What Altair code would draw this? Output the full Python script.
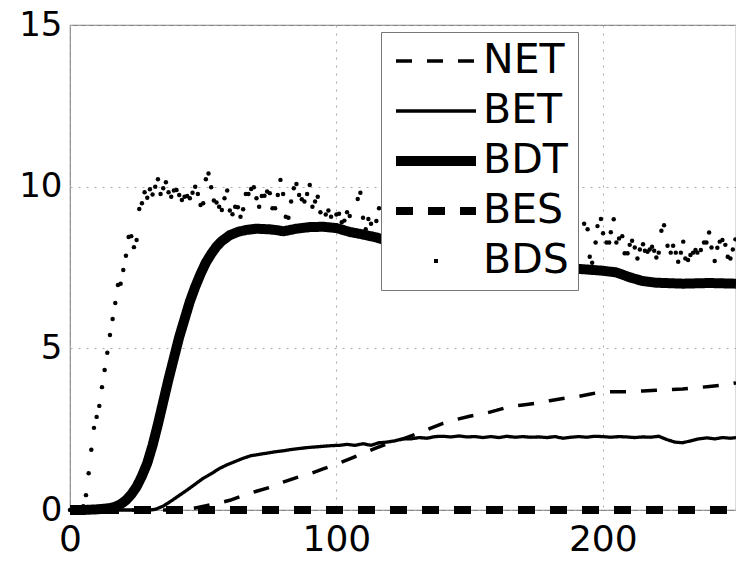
import altair as alt
import pandas as pd

SERIES = ["NET", "BET", "BDT", "BES", "BDS"]

net_x = [0, 42, 45, 48, 52, 56, 60, 65, 70, 75, 80, 85, 90, 95, 100, 105, 110, 115, 120, 125, 130,
         135, 140, 145, 150, 155, 160, 165, 170, 175, 180, 185, 190, 195, 200, 205, 210, 215, 220,
         225, 230, 235, 240, 245, 250]
net_y = [0.0, 0.0, 0.03, 0.08, 0.15, 0.22, 0.3, 0.45, 0.58, 0.7, 0.86, 1.0, 1.12, 1.27, 1.42, 1.58,
         1.75, 1.92, 2.08, 2.2, 2.35, 2.52, 2.68, 2.8, 2.9, 2.97, 3.08, 3.2, 3.25, 3.3, 3.38, 3.45,
         3.5, 3.58, 3.66, 3.66, 3.66, 3.68, 3.7, 3.72, 3.74, 3.78, 3.82, 3.86, 3.93]

bet_x = [0, 30, 32, 35, 38, 41, 44, 47, 50, 53, 56, 59, 62, 65, 68, 71, 74, 77, 80, 83, 86, 89, 92,
         95, 98, 101, 104, 107, 110, 113, 116, 119, 122, 125, 128, 131, 134, 137, 140, 143, 146,
         149, 152, 155, 158, 161, 164, 167, 170, 173, 176, 179, 182, 185, 188, 191, 194, 197, 200,
         203, 206, 209, 212, 215, 218, 221, 224, 227, 230, 233, 236, 239, 242, 245, 248, 250]
bet_y = [0.0, 0.0, 0.02, 0.12, 0.28, 0.45, 0.62, 0.8, 0.98, 1.12, 1.28, 1.4, 1.5, 1.6, 1.68, 1.72,
         1.76, 1.8, 1.83, 1.87, 1.9, 1.93, 1.95, 1.97, 1.99, 2.0, 2.03, 2.0, 2.05, 2.0, 2.08, 2.1,
         2.14, 2.2, 2.2, 2.24, 2.22, 2.27, 2.28, 2.26, 2.29, 2.26, 2.27, 2.24, 2.27, 2.24, 2.28,
         2.25, 2.27, 2.25, 2.26, 2.24, 2.27, 2.22, 2.25, 2.27, 2.25, 2.28, 2.27, 2.25, 2.27, 2.26,
         2.24, 2.26, 2.25, 2.28, 2.18, 2.1, 2.08, 2.14, 2.2, 2.23, 2.2, 2.24, 2.22, 2.24]

bdt_x = [0, 5, 10, 13, 15, 17, 19, 21, 23, 25, 27, 29, 31, 33, 35, 37, 39, 41, 43, 45, 47, 49, 51,
         53, 55, 57, 60, 63, 66, 70, 75, 78, 80, 82, 85, 90, 95, 100, 105, 110, 115, 120, 130, 140,
         150, 160, 170, 180, 192, 200, 205, 210, 215, 220, 230, 240, 250]
bdt_y = [0.0, 0.0, 0.02, 0.04, 0.06, 0.1, 0.18, 0.3, 0.48, 0.72, 1.05, 1.45, 2.0, 2.65, 3.35, 4.05,
         4.7, 5.35, 5.9, 6.45, 6.9, 7.3, 7.65, 7.92, 8.15, 8.32, 8.5, 8.6, 8.66, 8.7, 8.68, 8.65,
         8.62, 8.65, 8.7, 8.75, 8.76, 8.72, 8.6, 8.52, 8.43, 8.3, 8.1, 7.95, 7.85, 7.75, 7.65, 7.55,
         7.45, 7.4, 7.35, 7.2, 7.08, 7.03, 7.0, 7.02, 7.0]

bes_x = [0, 250]
bes_y = [0.0, 0.0]

# BDS samples (those behind the legend box cannot be read and are left out)
bds_x = [0, 1, 2, 3, 4, 5, 6, 7, 8, 9, 10, 11, 12, 13, 14, 15, 16, 17, 18, 19, 20, 21, 22, 23, 24,
         25, 26, 27, 28, 29, 30, 31, 32, 33, 34, 35, 36, 37, 38, 39, 40, 41, 42, 43, 44, 45, 46, 47,
         48, 49, 50, 51, 52, 53, 54, 55, 56, 57, 58, 59, 60, 61, 62, 63, 64, 65, 66, 67, 68, 69, 70,
         71, 72, 73, 74, 75, 76, 77, 78, 79, 80, 81, 82, 83, 84, 85, 86, 87, 88, 89, 90, 91, 92, 93,
         94, 95, 96, 97, 98, 99, 100, 101, 102, 103, 104, 105, 106, 107, 108, 109, 110, 111, 112,
         113, 114, 115, 116,
         193, 194.3, 195.1, 196, 197.3, 198, 199.3, 200.1, 201.4, 202.4, 203, 204.1, 205.1, 206.1,
         207.3, 208.2, 209.3, 210.1, 211, 212, 213, 213.9, 215.1, 215.8, 216.8, 217.6, 218.5,
         219.3, 220.1, 221, 222, 223, 224.3, 225.5, 226.4, 227.4, 228.3, 229.3, 230.2, 231, 232,
         232.9, 233.9, 234.8, 235.5, 236.8, 238, 238.9, 239.9, 240.8, 242, 243, 243.9, 244.9, 246,
         246.9, 247.9, 248.8, 249.8]
bds_y = [0.0, 0.0, 0.0, 0.02, 0.05, 0.12, 0.46, 1.14, 1.86, 2.54, 2.88, 3.22, 3.8, 4.33, 4.86,
         5.41, 5.91, 6.4, 6.96, 7.0, 7.42, 7.86, 8.44, 8.47, 8.13, 8.35, 9.31, 9.49, 9.83, 9.66,
         9.92, 9.76, 10.0, 10.23, 9.77, 9.95, 10.14, 9.83, 9.69, 9.88, 9.9, 9.74, 9.59, 9.69, 9.71,
         9.64, 9.81, 10.0, 9.77, 9.43, 9.49, 10.23, 10.41, 9.98, 9.57, 9.51, 9.38, 9.28, 9.64, 9.88,
         9.26, 9.15, 9.38, 9.36, 9.07, 9.3, 9.77, 9.77, 9.93, 9.98, 9.64, 9.38, 9.71, 9.72, 9.85,
         9.8, 9.33, 9.33, 9.74, 10.21, 9.77, 9.07, 9.04, 9.54, 9.95, 10.08, 9.74, 9.61, 9.54, 9.77,
         10.05, 9.38, 9.54, 9.69, 9.21, 8.81, 9.14, 9.26, 9.07, 8.76, 9.14, 9.16, 8.9, 8.95, 9.21,
         9.09, 8.56, 8.56, 9.62, 9.81, 9.04, 8.68, 9.0, 8.85, 8.45, 8.94, 9.33,
         8.85, 8.68, 7.83, 7.65, 8.27, 8.78, 9.0, 8.56, 8.27, 8.27, 8.59, 8.99, 8.27, 8.4, 8.47,
         7.94, 7.94, 8.2, 8.33, 8.12, 7.78, 8.06, 8.22, 8.02, 7.99, 8.06, 8.14, 8.02, 7.81, 7.96,
         8.64, 8.81, 8.17, 7.96, 8.17, 7.96, 7.68, 7.96, 8.3, 7.78, 7.73, 7.89, 7.96, 8.04, 7.96,
         8.04, 8.27, 8.27, 8.58, 8.12, 7.7, 8.11, 8.3, 8.35, 8.2, 7.83, 7.78, 8.06, 8.37]

rows = []
for name, xs, ys in [("NET", net_x, net_y), ("BET", bet_x, bet_y), ("BDT", bdt_x, bdt_y),
                     ("BES", bes_x, bes_y)]:
    for i, (a, b) in enumerate(zip(xs, ys)):
        rows.append({"series": name, "x": a, "y": b, "order": i})
lines_df = pd.DataFrame(rows)
bds_df = pd.DataFrame({"x": bds_x, "y": bds_y, "series": "BDS"})

dash_range = [[16, 15], [1, 0], [1, 0], [17, 15], [0, 38, 4, 200]]
width_range = [3.5, 3.3, 10, 8, 4]

xenc = alt.X("x:Q", scale=alt.Scale(domain=[0, 250], nice=False, zero=False),
             axis=alt.Axis(values=[0, 100, 200], title=None, labelFontSize=36, labelPadding=12,
                           labelFlush=False, labelOverlap=False))
yenc = alt.Y("y:Q", scale=alt.Scale(domain=[0, 15], nice=False),
             axis=alt.Axis(values=[0, 5, 10, 15], title=None, labelFontSize=34, labelPadding=8,
                           labelOverlap=False))

legend = alt.Legend(orient="none", legendX=311, legendY=7, title=None, symbolType="stroke",
                    symbolSize=6400, labelFontSize=41, labelFont="DejaVu Sans",
                    labelColor="black", labelOffset=2, padding=9, symbolOffset=1,
                    clipHeight=40, rowPadding=9,
                    fillColor="white", strokeColor="#777", symbolStrokeColor="black")

lines = alt.Chart(lines_df).mark_line(color="black").encode(
    x=xenc, y=yenc,
    order="order:Q",
    strokeDash=alt.StrokeDash("series:N", scale=alt.Scale(domain=SERIES, range=dash_range),
                              legend=legend),
    strokeWidth=alt.StrokeWidth("series:N",
                                scale=alt.Scale(type="ordinal", domain=SERIES, range=width_range),
                                legend=legend),
)

points = alt.Chart(bds_df).mark_circle(color="black", size=20, opacity=1).encode(
    x=xenc, y=yenc)

chart = alt.layer(lines, points).properties(
    width=666, height=485,
    autosize=alt.AutoSizeParams(type="none"),
    padding={"left": 70, "top": 25, "right": 0, "bottom": 52},
    background="white",
).configure_axis(
    labelFont="DejaVu Sans", labelColor="black", domain=False, ticks=False,
    grid=True, gridColor="#aaaaaa", gridDash=[2, 6], gridWidth=1,
).configure_view(stroke="#888888", strokeWidth=1.2)

chart.save("out.html", embed_options={"renderer": "svg", "actions": False})
